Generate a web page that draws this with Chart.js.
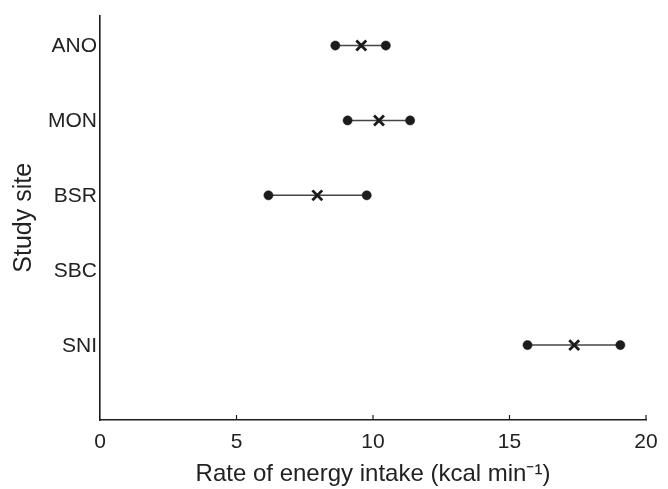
<!DOCTYPE html>
<html>
<head>
<meta charset="utf-8">
<script src="https://cdn.jsdelivr.net/npm/chart.js@4/dist/chart.umd.min.js"></script>
<style>
  html, body { margin: 0; padding: 0; background: #fff; }
  #wrap { width: 668px; height: 489px; }
</style>
</head>
<body>
<div id="wrap"><canvas id="chart" width="668" height="489"></canvas></div>
<script>
// sites top to bottom, y position is 5..1
const sites = ['ANO', 'MON', 'BSR', 'SBC', 'SNI'];
const siteY = [5, 4, 3, 2, 1];
const lowRate = [8.62, 9.07, 6.17, null, 15.66];
const meanRate = [9.57, 10.22, 7.96, null, 17.37];
const highRate = [10.47, 11.36, 9.77, null, 19.06];
const xTicks = [0, 5, 10, 15, 20];

const ink = '#1c1c1e';
const font = 'Liberation Sans, Arial, sans-serif';

// one line dataset per site: the two end dots joined by a line
const rangeSets = sites.map((s, i) => ({
    label: s,
    type: 'line',
    data: lowRate[i] === null ? [] : [{ x: lowRate[i], y: siteY[i] }, { x: highRate[i], y: siteY[i] }],
    borderColor: '#444',
    borderWidth: 1.5,
    pointStyle: 'circle',
    pointRadius: 4.6,
    pointBackgroundColor: ink,
    pointBorderColor: ink,
    pointBorderWidth: 0.5,
    order: 2
}));

const meanSet = {
    label: 'mean',
    type: 'scatter',
    data: sites.map((s, i) => meanRate[i] === null ? null : { x: meanRate[i], y: siteY[i] }).filter(p => p),
    pointStyle: 'crossRot',
    pointRadius: 7,
    pointBorderColor: ink,
    pointBorderWidth: 2.8,
    order: 1
};

// small ticks pointing into the plot on the x axis
const innerTicks = {
    id: 'innerTicks',
    afterDatasetsDraw(chart) {
        const xs = chart.scales.x;
        const ctx = chart.ctx;
        ctx.save();
        ctx.strokeStyle = ink;
        ctx.lineWidth = 1.2;
        xs.ticks.forEach(t => {
            if (t.value === 0) return;
            const px = xs.getPixelForValue(t.value);
            ctx.beginPath();
            ctx.moveTo(px, chart.chartArea.bottom);
            ctx.lineTo(px, chart.chartArea.bottom - 5);
            ctx.stroke();
        });
        ctx.restore();
    }
};

new Chart(document.getElementById('chart'), {
    type: 'scatter',
    data: { datasets: [...rangeSets, meanSet] },
    options: {
        responsive: false,
        animation: false,
        layout: { padding: { top: 14, right: 22, left: 0, bottom: 0 } },
        plugins: {
            legend: { display: false },
            tooltip: { enabled: false }
        },
        scales: {
            x: {
                type: 'linear',
                min: 0,
                max: 20,
                afterBuildTicks: (scale) => { scale.ticks = xTicks.map(v => ({ value: v })); },
                afterFit: (scale) => { scale.height = 69; },
                grid: { display: false, drawTicks: false },
                border: { display: true, color: ink, width: 1.6 },
                ticks: {
                    color: '#222',
                    padding: 10,
                    font: { family: font, size: 21 }
                },
                title: {
                    display: true,
                    text: 'Rate of energy intake (kcal min\u207B\u00B9)',
                    color: '#222',
                    padding: { top: 2, bottom: 0 },
                    font: { family: font, size: 24 }
                }
            },
            y: {
                type: 'linear',
                min: 0,
                max: 5.4,
                afterBuildTicks: (scale) => { scale.ticks = siteY.map(v => ({ value: v })); },
                afterFit: (scale) => { scale.width = 100; },
                grid: { display: false, drawTicks: false },
                border: { display: true, color: ink, width: 1.6 },
                ticks: {
                    color: '#222',
                    padding: 3,
                    labelOffset: 1,
                    font: { family: font, size: 21 },
                    callback: (v) => sites[siteY.indexOf(v)] || ''
                },
                title: {
                    display: true,
                    text: 'Study site',
                    color: '#222',
                    padding: { top: 9, bottom: 2 },
                    font: { family: font, size: 25 }
                }
            }
        }
    },
    plugins: [innerTicks]
});
</script>
</body>
</html>
